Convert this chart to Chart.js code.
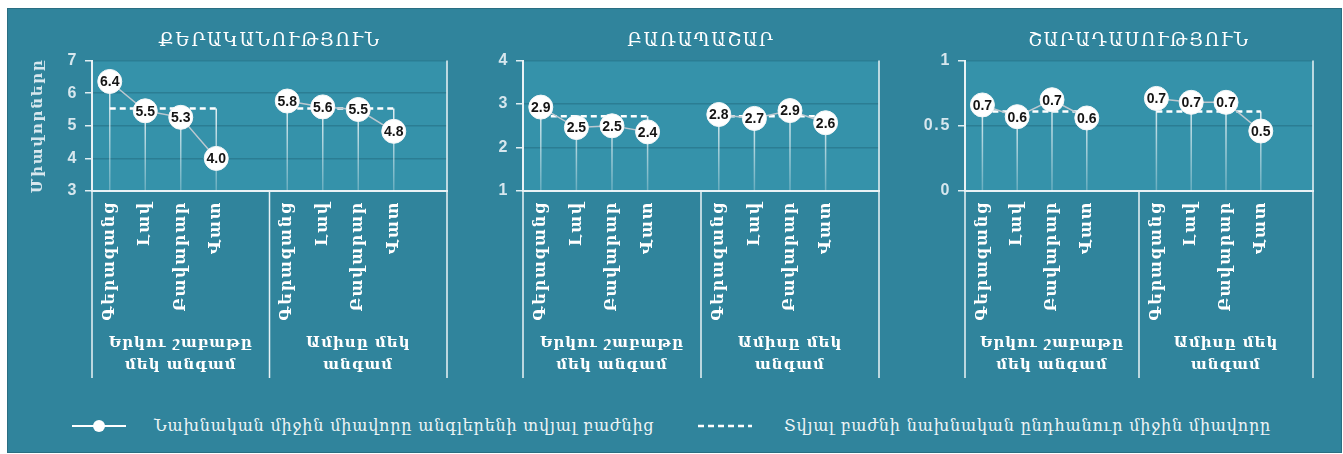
<!DOCTYPE html>
<html>
<head>
<meta charset="utf-8">
<script src="https://cdn.jsdelivr.net/npm/chart.js@4/dist/chart.umd.min.js"></script>
<style>
  html, body { margin: 0; padding: 0; background: #fff; }
  body { width: 1343px; height: 454px; position: relative; overflow: hidden; }
  #frame {
    position: absolute; left: 7px; top: 8px; width: 1333px; height: 443px;
    background: #30849c; border: 1px solid #2a6e82;
  }
  .panel { position: absolute; top: 8px; height: 374px; }
  #legend {
    position: absolute; top: 414px; left: 0; width: 1343px; height: 24px;
    font-family: "DejaVu Serif", serif; font-size: 16px; letter-spacing: 0.8px; color: #eef4f6;
  }
  #legend .item { position: absolute; top: 0; height: 24px; line-height: 24px; white-space: nowrap; }
  #legend svg { position: absolute; top: 5px; }
</style>
</head>
<body>
<div id="frame"></div>
<canvas id="grammar" class="panel" style="left:8px" width="452" height="374"></canvas>
<canvas id="vocabulary" class="panel" style="left:460px" width="432" height="374"></canvas>
<canvas id="syntax" class="panel" style="left:892px" width="434" height="374"></canvas>
<div id="legend">
  <div class="item" style="left:72px">
    <svg width="54" height="14"><line x1="0" y1="7" x2="54" y2="7" stroke="#ffffff" stroke-width="2"/><circle cx="27" cy="7" r="6" fill="#ffffff"/></svg>
  </div>
  <div class="item" style="left:154px">Նախնական միջին միավորը անգլերենի տվյալ բաժնից</div>
  <div class="item" style="left:698px">
    <svg width="54" height="14"><line x1="0" y1="7" x2="54" y2="7" stroke="#ffffff" stroke-width="2.5" stroke-dasharray="6 4"/></svg>
  </div>
  <div class="item" style="left:784px">Տվյալ բաժնի նախնական ընդհանուր միջին միավորը</div>
</div>
<script>
// categories: 4 ratings per frequency group, with an empty slot closing each group
const categories = ['Գերազանց', 'Լավ', 'Բավարար', 'Վատ', '', 'Գերազանց', 'Լավ', 'Բավարար', 'Վատ', ''];
const groupLabels = [['Երկու շաբաթը', 'մեկ անգամ'], ['Ամիսը մեկ', 'անգամ']];

const grammarScores = [6.36, 5.46, 5.26, 4.0, null, 5.76, 5.58, 5.5, 4.83, null];
const grammarAverage = [5.53, 5.53, 5.53, 5.53, null, 5.53, 5.53, 5.53, 5.53, null];

const vocabularyScores = [2.93, 2.46, 2.5, 2.36, null, 2.76, 2.67, 2.85, 2.57, null];
const vocabularyAverage = [2.72, 2.72, 2.72, 2.72, null, 2.72, 2.72, 2.72, 2.72, null];

const syntaxScores = [0.66, 0.57, 0.7, 0.56, null, 0.71, 0.68, 0.68, 0.46, null];
const syntaxAverage = [0.61, 0.61, 0.61, 0.61, null, 0.61, 0.61, 0.61, 0.61, null];

const seriesLabels = ['Նախնական միջին միավորը անգլերենի տվյալ բաժնից', 'Տվյալ բաժնի նախնական ընդհանուր միջին միավորը'];

const ARM = '"DejaVu Serif", serif';
const NUM = '"Liberation Sans", Arial, sans-serif';
const LIGHT = '#d7e7ee';
const SPACING = '1.7px'; // the Armenian face in the original is much wider than DejaVu

// plot background, drop lines, group separators, group labels, value labels
const panelDecor = {
  id: 'panelDecor',
  beforeDraw(chart) {
    const { ctx, chartArea: a } = chart;
    ctx.save();
    ctx.fillStyle = '#3592aa';
    ctx.fillRect(a.left, a.top, a.right - a.left, a.bottom - a.top);
    ctx.restore();
    ctx.letterSpacing = SPACING;
  },
  beforeDatasetsDraw(chart) {
    const { ctx, chartArea: a, scales: { x, y } } = chart;
    ctx.letterSpacing = '0px';
    const scores = chart.data.datasets[0].data;
    const avg = chart.data.datasets[1].data;
    ctx.save();
    ctx.lineWidth = 1.5;
    scores.forEach((v, i) => {
      if (v == null) return;
      const top = y.getPixelForValue(Math.max(v, avg[i]));
      const px = x.getPixelForValue(i);
      const g = ctx.createLinearGradient(0, top, 0, a.bottom);
      g.addColorStop(0, 'rgba(255,255,255,0.85)');
      g.addColorStop(1, 'rgba(255,255,255,0.25)');
      ctx.strokeStyle = g;
      ctx.beginPath();
      ctx.moveTo(px, top);
      ctx.lineTo(px, a.bottom);
      ctx.stroke();
    });
    ctx.restore();
  },
  afterDatasetsDraw(chart) {
    const { ctx } = chart;
    const meta = chart.getDatasetMeta(0);
    ctx.save();
    ctx.font = 'bold 14px ' + NUM;
    ctx.fillStyle = '#151515';
    ctx.textAlign = 'center';
    ctx.textBaseline = 'middle';
    chart.data.datasets[0].data.forEach((v, i) => {
      if (v == null) return;
      const p = meta.data[i];
      ctx.fillText(v.toFixed(1), p.x, p.y + 1);
    });
    ctx.restore();
  },
  afterDraw(chart) {
    const { ctx, chartArea: a, scales: { x } } = chart;
    const mid = (x.getPixelForValue(4) + x.getPixelForValue(5)) / 2;
    ctx.save();
    ctx.strokeStyle = '#e9f2f5';
    ctx.lineWidth = 1.5;
    ctx.beginPath();
    ctx.moveTo(a.left, a.bottom); ctx.lineTo(a.left, x.bottom);
    ctx.moveTo(mid, a.bottom); ctx.lineTo(mid, x.bottom);
    ctx.moveTo(a.right, a.top); ctx.lineTo(a.right, x.bottom);
    ctx.stroke();
    ctx.font = 'bold 15px ' + ARM;
    ctx.letterSpacing = '1px';
    ctx.fillStyle = '#ffffff';
    ctx.textAlign = 'center';
    ctx.textBaseline = 'middle';
    groupLabels.forEach((lines, gi) => {
      const cx = x.getPixelForValue(gi * 5 + 2);
      lines.forEach((t, li) => ctx.fillText(t, cx, a.bottom + 152 + li * 22));
    });
    ctx.restore();
  }
};

function makePanel(id, title, scores, average, yMin, yMax, yStep, axisWidth, withYTitle) {
  return new Chart(document.getElementById(id), {
    type: 'line',
    data: {
      labels: categories,
      datasets: [
        {
          label: seriesLabels[0],
          data: scores,
          borderColor: '#bcc8d0',
          borderWidth: 1.5,
          pointRadius: 12,
          pointBackgroundColor: '#ffffff',
          pointBorderColor: '#f4f7f8',
          pointBorderWidth: 1,
          spanGaps: false,
        },
        {
          label: seriesLabels[1],
          data: average,
          borderColor: '#ffffff',
          borderWidth: 2.5,
          borderDash: [6, 4],
          pointRadius: 0,
          spanGaps: false,
        },
      ],
    },
    options: {
      responsive: false,
      animation: false,
      events: [],
      layout: { padding: { left: 0, right: 10, top: 0, bottom: 4 } },
      plugins: {
        legend: { display: false },
        tooltip: { enabled: false },
        title: {
          display: true,
          text: title,
          fullSize: false,
          color: '#ffffff',
          font: { family: ARM, size: 18, weight: 'normal', lineHeight: 1.2 },
          padding: { top: 23, bottom: 8 },
        },
      },
      scales: {
        x: {
          offset: true,
          grid: { display: false, drawTicks: false },
          border: { display: true, color: '#e9f2f5', width: 2 },
          ticks: {
            autoSkip: false,
            minRotation: 90,
            maxRotation: 90,
            padding: 10,
            color: '#ffffff',
            font: { family: ARM, size: 16, weight: 'bold' },
          },
          afterFit: s => { s.height = 187; },
        },
        y: {
          min: yMin,
          max: yMax,
          ticks: {
            stepSize: yStep,
            padding: 7,
            color: LIGHT,
            font: { family: NUM, size: 16, weight: 'bold' },
            callback: v => String(v),
          },
          grid: {
            color: '#2b7d93',
            lineWidth: 1.5,
            tickLength: 7,
            tickColor: '#dfeef3',
            tickWidth: 1.5,
          },
          border: { display: true, color: '#e9f2f5', width: 2 },
          title: {
            display: withYTitle,
            text: 'Միավորները',
            color: LIGHT,
            font: { family: ARM, size: 15, weight: 'bold', lineHeight: 1.2 },
            padding: { top: 21, bottom: 0 },
          },
          afterFit: s => { s.width = axisWidth; },
        },
      },
    },
    plugins: [panelDecor],
  });
}

makePanel('grammar', 'ՔԵՐԱԿԱՆՈՒԹՅՈՒՆ', grammarScores, grammarAverage, 3, 7, 1, 84, true);
makePanel('vocabulary', 'ԲԱՌԱՊԱՇԱՐ', vocabularyScores, vocabularyAverage, 1, 4, 1, 63, false);
makePanel('syntax', 'ՇԱՐԱԴԱՍՈՒԹՅՈՒՆ', syntaxScores, syntaxAverage, 0, 1, 0.5, 73, false);
</script>
</body>
</html>
